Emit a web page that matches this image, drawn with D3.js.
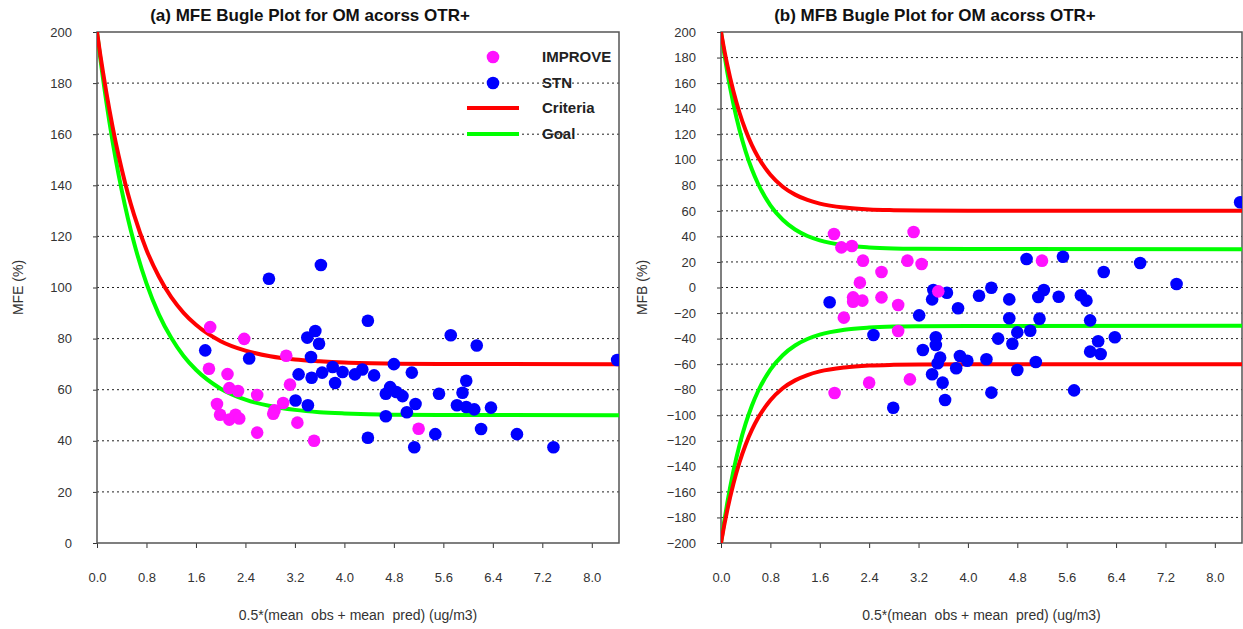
<!DOCTYPE html>
<html>
<head>
<meta charset="utf-8">
<script src="https://cdn.jsdelivr.net/npm/d3@7"></script>
<style>
  body { margin: 0; background: #fff; }
  svg text { font-family: "Liberation Sans", Arial, sans-serif; }
</style>
</head>
<body>
<div id="chart"></div>
<script>
// ---- data ----

// x ticks shared by both panels
var xTicks = [0.0, 0.8, 1.6, 2.4, 3.2, 4.0, 4.8, 5.6, 6.4, 7.2, 8.0];
var mfeTicks = [0, 20, 40, 60, 80, 100, 120, 140, 160, 180, 200];
var mfbTicks = [-200, -180, -160, -140, -120, -100, -80, -60, -40, -20, 0,
                20, 40, 60, 80, 100, 120, 140, 160, 180, 200];

// bugle curves (sampled)
var mfeCurveX   = [0, 0.05, 0.1, 0.2, 0.3, 0.4, 0.5, 0.6, 0.8, 1.0, 1.2, 1.4, 1.6, 2.0, 2.4, 2.8, 3.2, 3.6, 4.0, 4.8, 5.6, 8.44];
var mfeCriteria = [200, 191.6, 183.8, 169.6, 157.1, 146.3, 136.7, 128.4, 114.7, 104.3, 96.2, 90.1, 85.4, 79.0, 75.3, 73.1, 71.8, 71.1, 70.6, 70.2, 70.1, 70];
var mfeGoal     = [200, 190.3, 181.3, 164.9, 150.5, 138.0, 127.0, 117.4, 101.6, 89.5, 80.3, 73.2, 67.8, 60.4, 56.1, 53.6, 52.1, 51.2, 50.7, 50.2, 50.1, 50];

var mfbCurveX        = [0, 0.05, 0.1, 0.2, 0.3, 0.4, 0.5, 0.6, 0.8, 1.0, 1.2, 1.4, 1.6, 2.0, 2.4, 2.8, 3.2, 4.0, 8.44];
var mfbCriteriaUpper = [200, 186.7, 174.6, 153.8, 136.8, 122.9, 111.5, 102.2, 88.3, 78.9, 72.7, 68.5, 65.7, 62.6, 61.1, 60.5, 60.2, 60.0, 60];
var mfbGoalUpper     = [200, 183.8, 169.2, 144.0, 123.3, 106.4, 92.5, 81.2, 64.3, 53.0, 45.4, 40.3, 36.9, 33.1, 31.4, 30.6, 30.3, 30.1, 30];
var mfbCriteriaLower = [-200, -186.7, -174.6, -153.8, -136.8, -122.9, -111.5, -102.2, -88.3, -78.9, -72.7, -68.5, -65.7, -62.6, -61.1, -60.5, -60.2, -60.0, -60];
var mfbGoalLower     = [-200, -183.8, -169.2, -144.0, -123.3, -106.4, -92.5, -81.2, -64.3, -53.0, -45.4, -40.3, -36.9, -33.1, -31.4, -30.6, -30.3, -30.1, -30];

// [x, value] pairs
var improveMFE = [[1.83,84.5],[2.38,79.9],[3.06,73.3],[1.81,68.2],[2.11,66.1],[2.14,60.6],[2.28,59.5],
  [3.12,62.0],[2.59,57.9],[1.94,54.4],[3.01,54.8],[2.87,51.9],[2.85,50.6],[1.99,50.2],[2.14,48.3],
  [2.24,50.2],[2.30,48.7],[3.24,47.1],[2.59,43.2],[3.51,40.0],[5.20,44.7]];

var stnMFE = [[3.62,108.8],[2.78,103.4],[4.38,87.0],[1.75,75.4],[2.46,72.2],[3.40,80.4],[3.53,83.0],
  [3.59,78.0],[3.46,72.8],[3.26,66.0],[3.47,64.7],[3.64,66.7],[3.81,68.9],[3.97,66.9],[3.85,62.6],
  [4.17,66.0],[4.29,67.9],[4.48,65.6],[4.80,70.0],[4.67,58.4],[4.74,61.0],[4.84,59.1],[4.67,49.6],
  [3.21,55.8],[3.41,53.9],[4.38,41.2],[5.72,81.3],[6.14,77.3],[8.41,71.6],[5.09,66.7],[5.97,63.5],
  [5.91,58.8],[4.94,57.5],[5.53,58.4],[5.15,54.4],[5.01,51.2],[5.82,53.9],[5.97,53.2],[6.10,52.3],
  [6.37,53.0],[5.47,42.6],[6.21,44.6],[6.79,42.6],[5.13,37.5],[7.38,37.5]];

var improveMFB = [[1.83,41.9],[3.12,43.4],[1.95,31.4],[2.12,32.5],[2.30,21.0],[3.02,21.0],[3.25,18.4],
  [2.60,12.1],[2.25,3.8],[3.52,-3.0],[2.14,-7.7],[2.14,-11.1],[2.29,-10.3],[2.60,-7.7],[2.87,-13.7],
  [1.99,-23.6],[2.87,-34.0],[2.40,-74.5],[3.06,-71.9],[1.84,-82.6],[5.20,21.0]];

var stnMFB = [[1.76,-11.6],[3.44,-2.0],[3.66,-4.1],[3.42,-9.3],[3.84,-16.3],[3.21,-21.8],[2.47,-37.2],
  [3.48,-39.0],[3.48,-45.0],[3.27,-48.9],[3.55,-54.9],[3.51,-59.3],[3.87,-53.6],[3.81,-63.2],[3.42,-67.9],
  [3.59,-74.5],[3.63,-88.1],[2.79,-94.1],[8.41,66.7],[4.95,22.3],[5.54,24.1],[6.79,19.2],[6.20,12.1],
  [7.38,2.7],[4.38,-0.2],[4.18,-6.4],[4.67,-9.3],[5.23,-2.0],[5.14,-7.4],[5.47,-7.2],[5.83,-6.1],
  [5.92,-10.3],[4.67,-24.1],[5.16,-24.4],[5.98,-25.7],[4.80,-35.1],[5.01,-33.8],[4.49,-40.0],[4.72,-44.0],
  [6.11,-42.1],[6.38,-39.0],[5.98,-50.2],[6.15,-52.1],[3.99,-57.3],[4.30,-56.2],[5.10,-58.3],[4.80,-64.6],
  [4.38,-82.3],[5.72,-80.5]];

var legendItems = ["IMPROVE", "STN", "Criteria", "Goal"];

// ---- drawing ----
var width = 1243, height = 629;
var xMax = 8.44;
// NB: "top" is taken by window.top, so use plotTop / plotBottom
var plotTop = 32, plotBottom = 543;

var svg = d3.select("#chart").append("svg")
  .attr("width", width)
  .attr("height", height);

var defs = svg.append("defs");

function zip(xs, ys) {
  return xs.map(function(x, i) { return [x, ys[i]]; });
}

function draw_panel(p) {
  var g = svg.append("g");

  var xScale = d3.scaleLinear().domain([0, xMax]).range([p.left, p.right]);
  var yScale = d3.scaleLinear().domain(p.yDomain).range([plotBottom, plotTop]);

  // clip so the curves and edge points stop at the frame
  defs.append("clipPath")
    .attr("id", "clip-" + p.id)
    .append("rect")
    .attr("x", p.left).attr("y", plotTop)
    .attr("width", p.right - p.left).attr("height", plotBottom - plotTop);

  // dotted grid lines
  g.selectAll(".grid")
    .data(p.yTicks.filter(function(d) { return d !== p.yDomain[0] && d !== p.yDomain[1]; }))
    .enter().append("line")
    .attr("x1", p.left).attr("x2", p.right)
    .attr("y1", function(d) { return yScale(d); })
    .attr("y2", function(d) { return yScale(d); })
    .attr("stroke", "#222")
    .attr("stroke-width", 1)
    .attr("stroke-dasharray", "2,3");

  // axes
  var yAxis = g.append("g")
    .attr("transform", "translate(" + p.left + ",0)")
    .call(d3.axisLeft(yScale).tickValues(p.yTicks).tickSize(4).tickPadding(21).tickFormat(d3.format("d")));
  var xAxis = g.append("g")
    .attr("transform", "translate(0," + plotBottom + ")")
    .call(d3.axisBottom(xScale).tickValues(xTicks).tickSize(5).tickPadding(25).tickFormat(d3.format(".1f")));

  [yAxis, xAxis].forEach(function(a) {
    a.select(".domain").remove();
    a.selectAll(".tick line").attr("stroke", "#333");
    a.selectAll(".tick text").attr("fill", "#333")
      .style("font-family", "'Liberation Sans', Arial, sans-serif")
      .style("font-size", "13px");
  });

  // frame
  g.append("rect")
    .attr("x", p.left).attr("y", plotTop)
    .attr("width", p.right - p.left).attr("height", plotBottom - plotTop)
    .attr("fill", "none")
    .attr("stroke", "#555")
    .attr("stroke-width", 1.5);

  var plot = g.append("g").attr("clip-path", "url(#clip-" + p.id + ")");

  var line = d3.line()
    .curve(d3.curveMonotoneX)
    .x(function(d) { return xScale(d[0]); })
    .y(function(d) { return yScale(d[1]); });

  p.curves.forEach(function(c) {
    plot.append("path")
      .attr("d", line(zip(c.x, c.y)))
      .attr("fill", "none")
      .attr("stroke", c.color)
      .attr("stroke-width", 4);
  });

  p.points.forEach(function(s) {
    plot.selectAll(null)
      .data(s.data)
      .enter().append("circle")
      .attr("cx", function(d) { return xScale(d[0]); })
      .attr("cy", function(d) { return yScale(d[1]); })
      .attr("r", 6.3)
      .attr("fill", s.color);
  });

  // panel title, centred over the whole panel (axis labels included)
  g.append("text")
    .attr("x", p.titleX).attr("y", 21)
    .attr("text-anchor", "middle")
    .style("font-size", "17px").style("font-weight", "bold")
    .attr("fill", "#111")
    .text(p.title);

  g.append("text")
    .attr("x", (p.left + p.right) / 2).attr("y", 620)
    .attr("text-anchor", "middle")
    .attr("xml:space", "preserve")
    .style("font-size", "14px")
    .attr("fill", "#333")
    .text("0.5*(mean  obs + mean  pred) (ug/m3)");

  g.append("text")
    .attr("transform", "translate(" + p.yLabelX + "," + (plotTop + plotBottom) / 2 + ") rotate(-90)")
    .attr("text-anchor", "middle")
    .style("font-size", "14px")
    .attr("fill", "#333")
    .text(p.yLabel);

  return { x: xScale, y: yScale, g: g };
}

var colors = { improve: "#ff11ff", stn: "#0000ff", criteria: "#ff0000", goal: "#00ff00" };

var left = draw_panel({
  id: "a", left: 97, right: 619, titleX: 310,
  yDomain: [0, 200], yTicks: mfeTicks,
  title: "(a) MFE Bugle Plot for OM acorss OTR+",
  yLabel: "MFE (%)", yLabelX: 23,
  curves: [
    { x: mfeCurveX, y: mfeGoal, color: colors.goal },
    { x: mfeCurveX, y: mfeCriteria, color: colors.criteria }
  ],
  points: [
    { data: stnMFE, color: colors.stn },
    { data: improveMFE, color: colors.improve }
  ]
});

draw_panel({
  id: "b", left: 721, right: 1242, titleX: 935,
  yDomain: [-200, 200], yTicks: mfbTicks,
  title: "(b) MFB Bugle Plot for OM acorss OTR+",
  yLabel: "MFB (%)", yLabelX: 647,
  curves: [
    { x: mfbCurveX, y: mfbGoalUpper, color: colors.goal },
    { x: mfbCurveX, y: mfbGoalLower, color: colors.goal },
    { x: mfbCurveX, y: mfbCriteriaUpper, color: colors.criteria },
    { x: mfbCurveX, y: mfbCriteriaLower, color: colors.criteria }
  ],
  points: [
    { data: stnMFB, color: colors.stn },
    { data: improveMFB, color: colors.improve }
  ]
});

// legend inside panel (a)
var legendY = [57, 83, 108, 134];
var legend = left.g.append("g");
legendItems.forEach(function(name, i) {
  if (i < 2) {
    legend.append("circle")
      .attr("cx", 493).attr("cy", legendY[i]).attr("r", 6.3)
      .attr("fill", i === 0 ? colors.improve : colors.stn);
  } else {
    legend.append("line")
      .attr("x1", 467).attr("x2", 519)
      .attr("y1", legendY[i]).attr("y2", legendY[i])
      .attr("stroke", i === 2 ? colors.criteria : colors.goal)
      .attr("stroke-width", 4);
  }
  legend.append("text")
    .attr("x", 542).attr("y", legendY[i])
    .attr("dy", "0.35em")
    .style("font-size", "15px").style("font-weight", "bold")
    .attr("fill", "#222")
    .text(name);
});
</script>
</body>
</html>
